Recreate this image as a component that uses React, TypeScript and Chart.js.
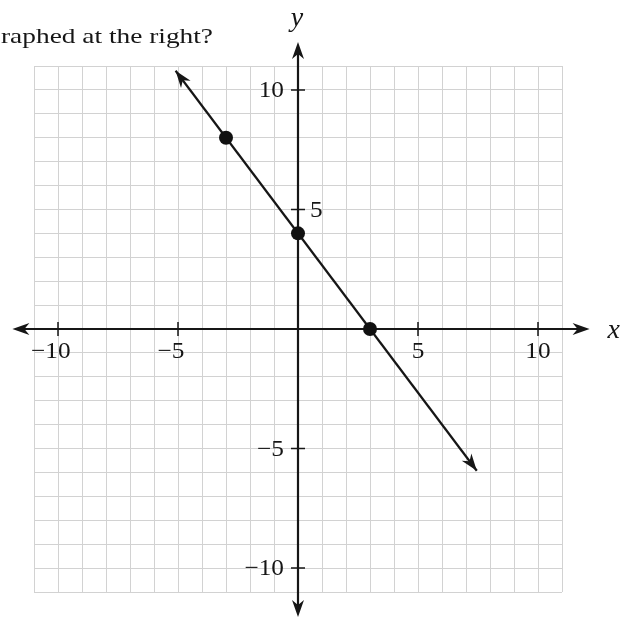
import React, { useEffect, useRef } from "react";
import { Chart, registerables } from "chart.js";

Chart.register(...registerables);

// ---- data ----
const questionText = "raphed at the right?";
const xTickValues = [-10, -5, 5, 10];
const yTickValues = [-10, -5, 5, 10];
const yLabelsOnRight = [5];
const pointXs = [-3, 0, 3];
const pointYs = [8, 4, 0];
const lineXs = [-5.1, 7.45];
const lineYs = [10.8, -5.93];
const xAxisRange = [-11.9, 12.15];
const yAxisRange = [-12.05, 12.0];
const gridMin = -11;
const gridMax = 11;

const INK = "#161616";
const SERIF = "\"Liberation Serif\", \"Times New Roman\", Tinos, Times, serif";

function arrowhead(ctx: CanvasRenderingContext2D, tx: number, ty: number, angle: number) {
  const L = 17, W = 6, N = 5;
  const dx = Math.cos(angle), dy = Math.sin(angle);
  const px = -dy, py = dx;
  ctx.beginPath();
  ctx.moveTo(tx, ty);
  ctx.lineTo(tx - L * dx + W * px, ty - L * dy + W * py);
  ctx.lineTo(tx - (L - N) * dx, ty - (L - N) * dy);
  ctx.lineTo(tx - L * dx - W * px, ty - L * dy - W * py);
  ctx.closePath();
  ctx.fill();
}

function stretchedText(
  ctx: CanvasRenderingContext2D,
  text: string,
  x: number,
  y: number,
  align: CanvasTextAlign,
  sx: number
) {
  ctx.save();
  ctx.translate(x, y);
  ctx.scale(sx, 1);
  ctx.textAlign = align;
  ctx.fillText(text, 0, 0);
  ctx.restore();
}

const fmt = (v: number) => (v < 0 ? "\u2212" + Math.abs(v) : String(v));

const axesPlugin = {
  id: "axesPlugin",
  beforeDatasetsDraw(chart: any) {
    const ctx: CanvasRenderingContext2D = chart.ctx;
    const xs = chart.scales.x;
    const ys = chart.scales.y;
    const x0 = xs.getPixelForValue(0);
    const y0 = ys.getPixelForValue(0);
    const xl = xs.getPixelForValue(xAxisRange[0]);
    const xr = xs.getPixelForValue(xAxisRange[1]);
    const yt = ys.getPixelForValue(yAxisRange[1]);
    const yb = ys.getPixelForValue(yAxisRange[0]);
    ctx.save();
    ctx.strokeStyle = INK;
    ctx.fillStyle = INK;
    ctx.lineWidth = 2.2;
    ctx.beginPath();
    ctx.moveTo(xl + 8, y0);
    ctx.lineTo(xr - 8, y0);
    ctx.moveTo(x0, yt + 8);
    ctx.lineTo(x0, yb - 8);
    ctx.stroke();
    arrowhead(ctx, xr, y0, 0);
    arrowhead(ctx, xl, y0, Math.PI);
    arrowhead(ctx, x0, yt, -Math.PI / 2);
    arrowhead(ctx, x0, yb, Math.PI / 2);

    // tick marks
    ctx.lineWidth = 1.5;
    ctx.beginPath();
    xTickValues.forEach((v) => {
      const p = xs.getPixelForValue(v);
      ctx.moveTo(p, y0 - 7);
      ctx.lineTo(p, y0 + 7);
    });
    yTickValues.forEach((v) => {
      const p = ys.getPixelForValue(v);
      ctx.moveTo(x0 - 7, p);
      ctx.lineTo(x0 + 7, p);
    });
    ctx.stroke();

    // tick labels
    const sx = 1.1;
    ctx.font = `23px ${SERIF}`;
    ctx.textBaseline = "middle";
    xTickValues.forEach((v) => {
      const p = xs.getPixelForValue(v);
      const dw = ctx.measureText(String(Math.abs(v))).width * sx;
      stretchedText(ctx, fmt(v), p + dw / 2, y0 + 23, "right", sx);
    });
    yTickValues.forEach((v) => {
      const p = ys.getPixelForValue(v);
      if (yLabelsOnRight.includes(v)) {
        stretchedText(ctx, fmt(v), x0 + 12, p + 1, "left", sx);
      } else {
        stretchedText(ctx, fmt(v), x0 - 14, p + 1, "right", sx);
      }
    });

    // axis titles
    ctx.font = `italic 28px ${SERIF}`;
    stretchedText(ctx, "x", xr + 24, y0 + 2, "center", 1);
    ctx.textBaseline = "alphabetic";
    stretchedText(ctx, "y", x0 - 1, yt - 16, "center", 1);

    // question text
    ctx.font = `22px ${SERIF}`;
    const w = ctx.measureText(questionText).width;
    stretchedText(ctx, questionText, 1, 43, "left", 212 / w);
    ctx.restore();
  },
  afterDatasetsDraw(chart: any) {
    const ctx: CanvasRenderingContext2D = chart.ctx;
    const xs = chart.scales.x;
    const ys = chart.scales.y;
    const ax = xs.getPixelForValue(lineXs[0]);
    const ay = ys.getPixelForValue(lineYs[0]);
    const bx = xs.getPixelForValue(lineXs[1]);
    const by = ys.getPixelForValue(lineYs[1]);
    ctx.save();
    ctx.fillStyle = INK;
    arrowhead(ctx, ax, ay, Math.atan2(ay - by, ax - bx));
    arrowhead(ctx, bx, by, Math.atan2(by - ay, bx - ax));
    ctx.restore();
  },
};

export default function App() {
  const ref = useRef<HTMLCanvasElement>(null);
  useEffect(() => {
    if (!ref.current) return;
    const lineData = lineXs.map((x, i) => ({ x, y: lineYs[i] }));
    const chart = new Chart(ref.current, {
      type: "scatter",
      data: {
        datasets: [
          {
            data: pointXs.map((x, i) => ({ x, y: pointYs[i] })),
            pointRadius: 7,
            pointHoverRadius: 7,
            backgroundColor: "#111",
            borderColor: "#111",
            borderWidth: 0,
          },
          {
            data: lineData,
            showLine: true,
            borderColor: INK,
            borderWidth: 2.2,
            pointRadius: 0,
            pointHoverRadius: 0,
          },
        ],
      },
      options: {
        responsive: false,
        animation: false,
        events: [],
        layout: { padding: { left: 34, right: 76, top: 66, bottom: 28 } },
        plugins: { legend: { display: false }, tooltip: { enabled: false } },
        scales: {
          x: {
            type: "linear",
            min: gridMin,
            max: gridMax,
            ticks: { display: false, stepSize: 1 },
            grid: { color: "#d2d2d2", lineWidth: 1, drawTicks: false },
            border: { display: false },
          },
          y: {
            type: "linear",
            min: gridMin,
            max: gridMax,
            ticks: { display: false, stepSize: 1 },
            grid: { color: "#d2d2d2", lineWidth: 1, drawTicks: false },
            border: { display: false },
          },
        },
      },
      plugins: [axesPlugin],
    });
    return () => chart.destroy();
  }, []);
  return (
    <div style={{ position: "absolute", left: 0, top: 0, width: 638, height: 620, background: "#fff" }}>
      <canvas ref={ref} width={638} height={620} style={{ display: "block" }} />
    </div>
  );
}
